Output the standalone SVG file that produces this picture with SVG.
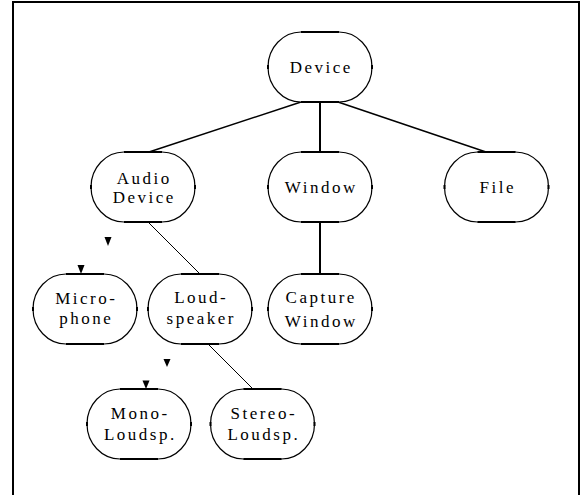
<svg xmlns="http://www.w3.org/2000/svg" width="582" height="495" viewBox="0 0 582 495">
<style>
.node{fill:#fff;stroke:#000;stroke-width:1.2}
.flat{stroke:#000;stroke-width:2.2;fill:none}
.side{stroke:#000;stroke-width:2;fill:none}
.lbl{font-family:"Liberation Serif",serif;font-size:17px;letter-spacing:2.5px;text-anchor:middle;fill:#000}
.thick{stroke:#000;stroke-width:2;fill:none}
.med{stroke:#000;stroke-width:1.5;fill:none}
.thin{stroke:#000;stroke-width:1;fill:none}
.tri{fill:#000}
</style>
<defs>
<g id="shape">
<path class="node" d="M -19,-35 L 19,-35 C 37,-35 52,-19.3 52,0 C 52,19.3 37,35 19,35 L -19,35 C -37,35 -52,19.3 -52,0 C -52,-19.3 -37,-35 -19,-35 Z"/>
<line class="flat" x1="-19" y1="-35" x2="19" y2="-35"/>
<line class="flat" x1="-19" y1="35" x2="19" y2="35"/>
<line class="side" x1="-52" y1="-2" x2="-52" y2="2"/>
<line class="side" x1="52" y1="-2" x2="52" y2="2"/>
</g>
</defs>
<rect x="0" y="0" width="582" height="495" fill="#fff"/>
<g id="frame">
<polyline points="13,495 13,2 579,2 579,495" fill="none" stroke="#000" stroke-width="2"/>
</g>
<g id="connectors">
<line class="med" x1="301" y1="102" x2="149" y2="152"/>
<line class="thick" x1="320" y1="102" x2="320" y2="152"/>
<line class="med" x1="338" y1="102" x2="486" y2="152"/>
<line class="thin" x1="148" y1="222" x2="200" y2="274"/>
<line class="thick" x1="320" y1="222" x2="320" y2="274"/>
<line class="thin" x1="208" y1="344" x2="253" y2="389"/>
<polygon class="tri" points="104.5,237 111.5,237 108,246"/>
<polygon class="tri" points="77.5,265 84.5,265 81,274"/>
<polygon class="tri" points="163.5,359 170.5,359 167,367"/>
<polygon class="tri" points="142.5,380.5 149.5,380.5 146,389"/>
</g>
<g id="device" transform="translate(320,67)">
<use href="#shape"/>
<text class="lbl" x="1.25" y="6">Device</text>
</g>
<g id="audio-device" transform="translate(143,187)">
<use href="#shape"/>
<text class="lbl" x="1.25" y="-3.5">Audio</text>
<text class="lbl" x="1.25" y="16">Device</text>
</g>
<g id="window" transform="translate(320,187)">
<use href="#shape"/>
<text class="lbl" x="1.25" y="6">Window</text>
</g>
<g id="file" transform="translate(496.5,187)">
<use href="#shape"/>
<text class="lbl" x="1.25" y="6">File</text>
</g>
<g id="microphone" transform="translate(85,309)">
<use href="#shape"/>
<text class="lbl" x="1.25" y="-5.5">Micro-</text>
<text class="lbl" x="1.25" y="14.5">phone</text>
</g>
<g id="loudspeaker" transform="translate(200,309)">
<use href="#shape"/>
<text class="lbl" x="1.25" y="-6.5">Loud-</text>
<text class="lbl" x="1.25" y="14.5">speaker</text>
</g>
<g id="capture-window" transform="translate(320,309)">
<use href="#shape"/>
<text class="lbl" x="1.25" y="-6.5">Capture</text>
<text class="lbl" x="1.25" y="17.5">Window</text>
</g>
<g id="mono-loudsp" transform="translate(139,424)">
<use href="#shape"/>
<text class="lbl" x="1.25" y="-5.5">Mono-</text>
<text class="lbl" x="1.25" y="16">Loudsp.</text>
</g>
<g id="stereo-loudsp" transform="translate(262.5,424)">
<use href="#shape"/>
<text class="lbl" x="1.25" y="-5.5">Stereo-</text>
<text class="lbl" x="1.25" y="16">Loudsp.</text>
</g>
</svg>
